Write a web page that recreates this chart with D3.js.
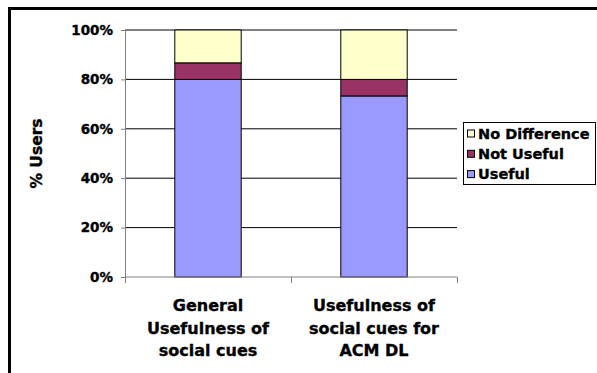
<!DOCTYPE html>
<html>
<head>
<meta charset="utf-8">
<script src="https://cdn.jsdelivr.net/npm/d3@7"></script>
<style>
  body { margin: 0; background: white; }
  svg text { font-family: "DejaVu Sans", Verdana, sans-serif; font-weight: bold; fill: #000; stroke: #000; stroke-width: 0.35px; }
</style>
</head>
<body>
<svg width="597" height="373"></svg>
<script>
const categories = [
  ['General', 'Usefulness of', 'social cues'],
  ['Usefulness of', 'social cues for', 'ACM DL']
];
const seriesNames = ['Useful', 'Not Useful', 'No Difference'];
const useful = [80, 73.3];
const notUseful = [6.7, 6.7];
const noDifference = [13.3, 20];
const yTicks = [0, 20, 40, 60, 80, 100];
const colors = ['#9999ff', '#993366', '#ffffcc'];

const svg = d3.select('svg');
const width = +svg.attr('width');
const height = +svg.attr('height');

const margin = { top: 30, left: 125, right: 140, bottom: 96 };
const innerWidth = 457 - margin.left;
const innerHeight = 277 - margin.top;

// outer frame (cut off at right and bottom)
svg.append('path')
  .attr('d', `M9.5,${height + 5}V8.5H${width + 5}`)
  .attr('fill', 'none')
  .attr('stroke', '#000')
  .attr('stroke-width', 3);

const rows = categories.map((c, i) => ({
  key: i,
  'Useful': useful[i],
  'Not Useful': notUseful[i],
  'No Difference': noDifference[i]
}));
const stacked = d3.stack().keys(seriesNames)(rows);

const xScale = d3.scaleBand()
  .domain(categories.map((c, i) => i))
  .range([0, innerWidth])
  .paddingInner(0.6)
  .paddingOuter(0.3);

const yScale = d3.scaleLinear()
  .domain([0, 100])
  .range([innerHeight, 0]);

const g = svg.append('g')
  .attr('transform', `translate(${margin.left},${margin.top})`);

// gridlines
g.selectAll('.grid').data(yTicks.slice(1))
  .enter().append('line')
    .attr('x1', 0)
    .attr('x2', innerWidth)
    .attr('y1', d => yScale(d))
    .attr('y2', d => yScale(d))
    .attr('stroke', '#000')
    .attr('stroke-width', 1);

// bars
g.selectAll('.series').data(stacked)
  .enter().append('g')
    .attr('fill', (d, i) => colors[i])
  .selectAll('rect').data(d => d)
  .enter().append('rect')
    .attr('x', d => xScale(d.data.key))
    .attr('y', d => yScale(d[1]))
    .attr('width', xScale.bandwidth())
    .attr('height', d => yScale(d[0]) - yScale(d[1]))
    .attr('stroke', '#000')
    .attr('stroke-width', 1);

// y axis
const yAxis = d3.axisLeft(yScale)
  .tickValues(yTicks)
  .tickSize(4)
  .tickPadding(8)
  .tickFormat(d => d + '%');
const yg = g.append('g').call(yAxis);
yg.selectAll('path, line').attr('stroke', '#808080');
yg.select('.domain').attr('d', `M0.5,0V${innerHeight}`);
yg.selectAll('text').style('font-size', '13.5px');

// x axis
const xAxisG = g.append('g').attr('transform', `translate(0,${innerHeight})`);
xAxisG.append('line')
  .attr('x1', 0).attr('x2', innerWidth)
  .attr('stroke', '#808080');
xAxisG.selectAll('.xt').data([0, xScale.step(), 2 * xScale.step()])
  .enter().append('line')
    .attr('x1', d => d + 0.5).attr('x2', d => d + 0.5)
    .attr('y1', 0).attr('y2', 6)
    .attr('stroke', '#808080');

xAxisG.selectAll('.xl').data(categories)
  .enter().append('text')
    .attr('text-anchor', 'middle')
    .attr('transform', (d, i) => `translate(${xScale(i) + xScale.bandwidth() / 2},0)`)
    .style('font-size', '16px')
  .selectAll('tspan').data(d => d)
  .enter().append('tspan')
    .attr('x', 0)
    .attr('y', (d, j) => 34 + j * 22.5)
    .text(d => d);

// y axis title
svg.append('text')
  .attr('transform', `translate(42,${margin.top + innerHeight / 2}) rotate(-90)`)
  .attr('text-anchor', 'middle')
  .style('font-size', '15.5px')
  .text('% Users');

// legend
const legend = svg.append('g').attr('transform', 'translate(463.5,122.5)');
legend.append('rect')
  .attr('width', 132)
  .attr('height', 62)
  .attr('fill', '#fff')
  .attr('stroke', '#000');
const items = seriesNames.slice().reverse();
const legendRow = legend.selectAll('.item').data(items)
  .enter().append('g')
    .attr('transform', (d, i) => `translate(0,${11 + i * 20.3})`);
legendRow.append('rect')
  .attr('x', 4)
  .attr('y', -3.5)
  .attr('width', 7)
  .attr('height', 7)
  .attr('fill', d => colors[seriesNames.indexOf(d)])
  .attr('stroke', '#000');
legendRow.append('text')
  .attr('x', 14.5)
  .attr('dy', '0.36em')
  .style('font-size', '14.5px')
  .text(d => d);
</script>
</body>
</html>
